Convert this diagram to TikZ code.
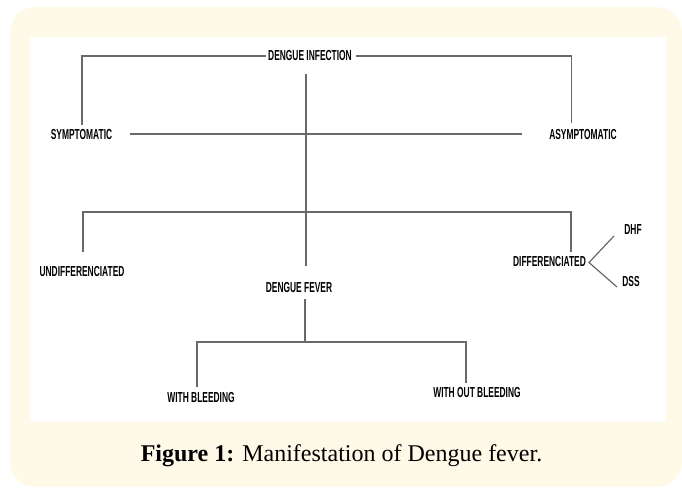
\documentclass[tikz,border=0pt]{standalone}
\usepackage{fontspec}
\newfontfamily\dfont[FakeStretch=0.58]{Liberation Sans Bold}
\newfontfamily\cfont{Liberation Serif}
\definecolor{bgyellow}{RGB}{255,250,232}
\definecolor{linegray}{RGB}{105,105,105}
\begin{document}
\begin{tikzpicture}[x=1pt,y=-1pt,
  lbl/.style={font=\dfont\fontsize{14.5}{14.5}\selectfont, text=black, inner sep=0pt},
  conn/.style={draw=linegray, line width=1.2pt}]
\useasboundingbox (0,0) rectangle (682,487);
\fill[bgyellow, rounded corners=25pt] (10,7) rectangle (682,487);
\fill[white] (30,37) rectangle (666,422);

% nodes
\node[lbl] (inf) at (310,56) {DENGUE INFECTION};
\node[lbl] (sym) at (81.5,135) {SYMPTOMATIC};
\node[lbl] (asym) at (583,135) {ASYMPTOMATIC};
\node[lbl] (undiff) at (82,272) {UNDIFFERENCIATED};
\node[lbl] (diff) at (549.5,262) {DIFFERENCIATED};
\node[lbl] (dhf) at (633,230) {DHF};
\node[lbl] (dss) at (631,282) {DSS};
\node[lbl] (df) at (299,288) {DENGUE FEVER};
\node[lbl] (wb) at (201,398) {WITH BLEEDING};
\node[lbl] (wob) at (477,393) {WITH OUT BLEEDING};

% connector coordinates
\coordinate (t1) at (266,56);
\coordinate (t2) at (356,56);
\coordinate (s1) at (82,125);
\coordinate (a1) at (571.5,123);
\coordinate (m1) at (130,134);
\coordinate (m2) at (522,134);
\coordinate (c1) at (306,74);
\coordinate (c2) at (306,266);
\coordinate (u1) at (83,252);
\coordinate (d1) at (571,252);
\coordinate (hl) at (83,212);
\coordinate (hr) at (571,212);
\coordinate (apex) at (589,262.5);
\coordinate (dh) at (614,236);
\coordinate (ds) at (617,287);
\coordinate (f1) at (305,299);
\coordinate (f2) at (305,342);
\coordinate (b1) at (197,387);
\coordinate (b2) at (466,383);

% connectors
\draw[conn] (t1) -| (s1);
\draw[conn] (t2) -| (a1);
\draw[conn] (m1) -- (m2);
\draw[conn] (c1) -- (c2);
\draw[conn] (u1) |- (hr) -- (d1);
\draw[conn] (dh) -- (apex) -- (ds);
\draw[conn] (f1) -- (f2);
\draw[conn] (b1) |- (b2 |- f2) -- (b2);

% caption
\node[anchor=base, font=\cfont\fontsize{24}{24}\selectfont, text=black, inner sep=0pt] (cap) at (341.5,461) {\textbf{Figure 1:} Manifestation of Dengue fever.};
\end{tikzpicture}
\end{document}
